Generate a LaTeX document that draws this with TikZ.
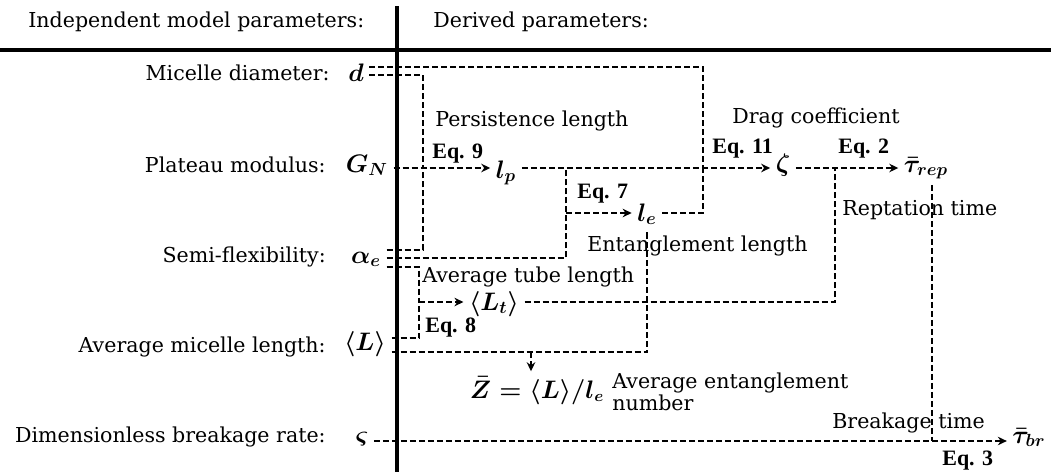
\documentclass[tikz,border=0pt]{standalone}
\usepackage{amsmath,amssymb}
\usepackage{fontspec}
\setmainfont{DejaVu Serif}
\newfontfamily\eqfont{Liberation Serif}
\usetikzlibrary{arrows.meta,positioning,calc}
\tikzset{
  txt/.style={font=\fontsize{11.7}{14}\selectfont, inner sep=0pt},
  par/.style={txt, anchor=base east},
  note/.style={txt, anchor=base west},
  eqn/.style={note, font=\eqfont\fontsize{12.5}{14}\selectfont\bfseries},
  sym/.style={anchor=base, inner sep=3pt, font=\fontsize{14}{16}\selectfont\boldmath},
  dl/.style={line width=0.85pt, dash pattern=on 1.2mm off 0.6mm},
  ar/.style={dl, -{Stealth[length=1.8mm,width=1.7mm]}},
  rule/.style={line width=2pt},
}
\begin{document}
\begin{tikzpicture}[x=0.2mm,y=-0.2mm]
  \useasboundingbox (0,0) rectangle (1051,474);
  \draw[rule] (0,50) -- (1051,50);
  \draw[rule] (397,6) -- (397,472);
  \node[note] (indep) at (28,27) {Independent model parameters:};
  \node[note] (deriv) at (433,27) {Derived parameters:};

  \node[par] (pdia) at (330,80) {Micelle diameter:};
  \node[par] (pmod) at (326,172) {Plateau modulus:};
  \node[par] (pflex) at (326,262) {Semi-flexibility:};
  \node[par] (plen) at (326,352) {Average micelle length:};
  \node[par] (pbrk) at (326,442) {Dimensionless breakage rate:};

  \node[sym] (d) at (356,81) {$d$};
  \node[sym] (GN) at (367,172) {$G_N$};
  \node[sym] (ae) at (366,263) {$\alpha_e$};
  \node[sym] (L) at (365,350) {$\langle L\rangle$};
  \node[sym] (vs) at (362,443) {$\varsigma$};

  \node[sym] (lp) at (506,178) {$l_p$};
  \node[sym] (le) at (647,221) {$l_e$};
  \node[sym] (zeta) at (783,171) {$\zeta$};
  \node[sym] (taurep) at (926,172) {$\bar{\tau}_{rep}$};
  \node[sym] (Lt) at (494,310) {$\langle L_t\rangle$};
  \node[sym, font=\fontsize{13.5}{16}\selectfont\boldmath] (Z) at (537,398) {$\bar{Z}=\langle L\rangle/l_e$};
  \node[sym] (taubr) at (1029,443) {$\bar{\tau}_{br}$};

  \node[note] (tpers) at (435,126) {Persistence length};
  \node[eqn] (e9) at (432,158) {Eq. 9};
  \node[eqn] (e7) at (577,198) {Eq. 7};
  \node[note] (tdrag) at (732,123) {Drag coefficient};
  \node[eqn] (e11) at (712,153) {Eq. 11};
  \node[eqn] (e2) at (838,153) {Eq. 2};
  \node[note] (trep) at (842,215) {Reptation time};
  \node[note] (tent) at (587,251) {Entanglement length};
  \node[note] (ttube) at (422,282) {Average tube length};
  \node[eqn] (e8) at (425,332) {Eq. 8};
  \node[txt, anchor=north west, align=left, font=\fontsize{11.7}{10}\selectfont] (tnum) at (612,373) {Average entanglement\\number};
  \node[note] (tbrk) at (832,428) {Breakage time};
  \node[eqn] (e3) at (942,465) {Eq. 3};

  \coordinate (j9) at (423,168);
  \coordinate (k9) at (423,75);
  \coordinate (k9b) at (423,250);
  \coordinate (j7a) at (566,168);
  \coordinate (j7) at (566,213);
  \coordinate (k7) at (566,258);
  \coordinate (j11) at (703,168);
  \coordinate (k11) at (703,67);
  \coordinate (j8) at (419,302);
  \coordinate (k8) at (419,267);
  \coordinate (k8b) at (419,338);
  \coordinate (jz) at (531,352);
  \coordinate (j2) at (835,168);
  \coordinate (j3) at (932,441);

  \draw[dl] (d.east |- k11) -| (j11);
  \draw[dl] (le.east |- j7) -| (j11);
  \draw[dl] (d.east |- k9) -| (j9);
  \draw[dl] (ae.east |- k9b) -| (j9);
  \draw[dl] (ae.east |- k7) -| (j7a);
  \draw[dl] (ae.east |- k8) -| (j8);
  \draw[dl] (L.east |- k8b) -| (j8);
  \draw[dl] (L.east |- jz) -| (le.south);
  \draw[dl] (Lt.east |- j8) -| (j2);
  \draw[dl] (j3 |- taurep.south) -- (j3);

  \draw[ar] (GN.east |- j9) -- (lp.west |- j9);
  \draw[ar] (lp.east |- j9) -- (zeta.west |- j9);
  \draw[ar] (j7) -- (le.west |- j7);
  \draw[ar] (j8) -- (Lt.west |- j8);
  \draw[ar] (zeta.east |- j2) -- (taurep.west |- j2);
  \draw[ar] (jz) -- (jz |- Z.north);
  \draw[ar] (vs.east |- j3) -- (taubr.west |- j3);
\end{tikzpicture}
\end{document}
